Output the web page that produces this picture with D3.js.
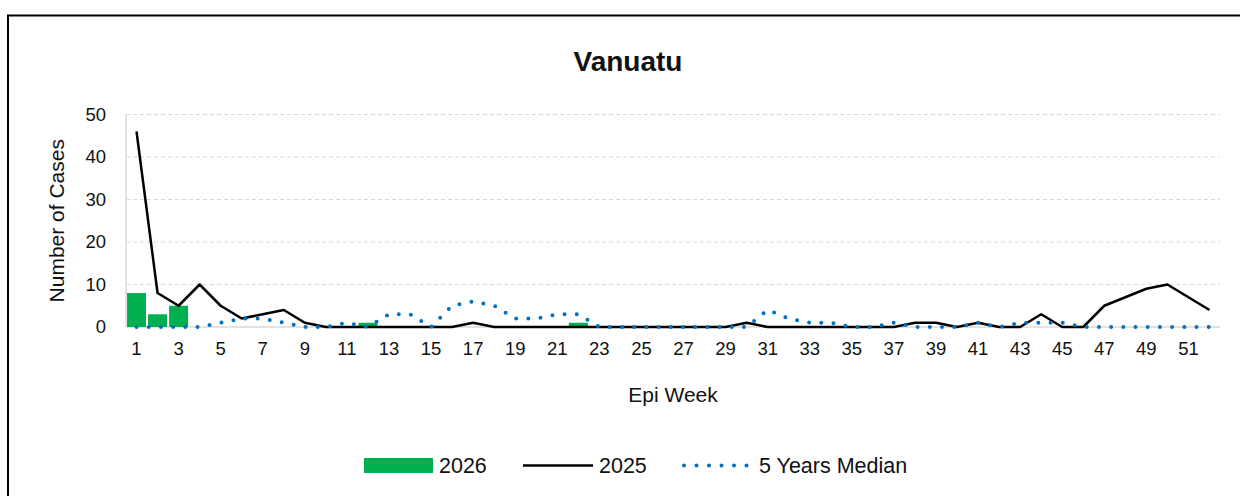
<!DOCTYPE html>
<html>
<head>
<meta charset="utf-8">
<script src="https://cdn.jsdelivr.net/npm/d3@7"></script>
<style>
  body { margin: 0; background: #fff; }
  text { font-family: "Liberation Sans", Arial, sans-serif; fill: #111; }
</style>
</head>
<body>
<div id="chart"></div>
<script>
// Epi weeks 1..52
const weeks = d3.range(1, 53);

// 2026 cases (bars)
const cases2026 = [8, 3, 5, 0, 0, 0, 0, 0, 0, 0, 0, 1, 0, 0, 0, 0, 0, 0, 0, 0, 0, 1, 0, 0, 0, 0,
                   0, 0, 0, 0, 0, 0, 0, 0, 0, 0, 0, 0, 0, 0, 0, 0, 0, 0, 0, 0, 0, 0, 0, 0, 0, 0];

// 2025 cases (black line)
const cases2025 = [46, 8, 5, 10, 5, 2, 3, 4, 1, 0, 0, 0, 0, 0, 0, 0, 1, 0, 0, 0, 0, 0, 0, 0, 0, 0,
                   0, 0, 0, 1, 0, 0, 0, 0, 0, 0, 0, 1, 1, 0, 1, 0, 0, 3, 0, 0, 5, 7, 9, 10, 7, 4];

// 5 years median (dotted line)
const median5 = [0, 0, 0, 0, 1, 2, 2, 1, 0, 0, 1, 0, 3, 3, 0, 5, 6, 5, 2, 2, 3, 3, 0, 0, 0, 0,
                 0, 0, 0, 0, 4, 2, 1, 1, 0, 0, 1, 0, 0, 0, 1, 0, 1, 1, 1, 0, 0, 0, 0, 0, 0, 0];

const yTicks = [0, 10, 20, 30, 40, 50];
const xTickLabels = weeks.filter(w => w % 2 === 1);

const W = 1240, H = 496;
const plot = { left: 126, right: 1220, top: 114.5, bottom: 327 };

const svg = d3.select("#chart")
    .append("svg")
    .attr("width", W)
    .attr("height", H);

// outer chart border
svg.append("rect")
    .attr("x", 8).attr("y", 15.5)
    .attr("width", 1260).attr("height", 520)
    .attr("fill", "none")
    .attr("stroke", "#000")
    .attr("stroke-width", 2);

const x = d3.scaleBand()
    .domain(weeks)
    .range([plot.left, plot.right])
    .paddingInner(0.1)
    .paddingOuter(0.05);

const xc = d => x(d) + x.bandwidth() / 2;

const y = d3.scaleLinear()
    .domain([0, 50])
    .range([plot.bottom, plot.top]);

// gridlines
svg.append("g")
    .selectAll("line")
    .data(yTicks.filter(t => t > 0))
    .enter().append("line")
    .attr("x1", plot.left).attr("x2", plot.right)
    .attr("y1", d => y(d)).attr("y2", d => y(d))
    .attr("stroke", "#d9d9d9")
    .attr("stroke-width", 1)
    .attr("stroke-dasharray", "4,3");

// axis lines
svg.append("line")
    .attr("x1", plot.left).attr("x2", plot.left)
    .attr("y1", plot.top).attr("y2", plot.bottom)
    .attr("stroke", "#d9d9d9").attr("stroke-width", 1.5);
svg.append("line")
    .attr("x1", plot.left).attr("x2", plot.right)
    .attr("y1", plot.bottom).attr("y2", plot.bottom)
    .attr("stroke", "#d9d9d9").attr("stroke-width", 1.5);

// y tick labels
svg.append("g")
    .selectAll("text")
    .data(yTicks)
    .enter().append("text")
    .attr("x", 106)
    .attr("y", d => y(d))
    .attr("dy", "0.35em")
    .attr("text-anchor", "end")
    .style("font-size", "18.5px")
    .text(d => d);

// x tick labels
svg.append("g")
    .selectAll("text")
    .data(xTickLabels)
    .enter().append("text")
    .attr("x", d => xc(d))
    .attr("y", 355)
    .attr("text-anchor", "middle")
    .style("font-size", "18.5px")
    .text(d => d);

// bars 2026
svg.append("g")
    .selectAll("rect")
    .data(weeks.map((w, i) => ({ w, v: cases2026[i] })).filter(d => d.v > 0))
    .enter().append("rect")
    .attr("x", d => x(d.w))
    .attr("y", d => y(d.v))
    .attr("width", x.bandwidth())
    .attr("height", d => y(0) - y(d.v))
    .attr("fill", "#00b050");

// 2025 line
const line = d3.line()
    .x(d => xc(d.w))
    .y(d => y(d.v));

svg.append("path")
    .datum(weeks.map((w, i) => ({ w, v: cases2025[i] })))
    .attr("d", line)
    .attr("fill", "none")
    .attr("stroke", "#000")
    .attr("stroke-width", 2.5)
    .attr("stroke-linejoin", "round");

// 5 years median dotted line
svg.append("path")
    .datum(weeks.map((w, i) => ({ w, v: median5[i] })))
    .attr("d", line)
    .attr("fill", "none")
    .attr("stroke", "#0070c0")
    .attr("stroke-width", 4)
    .attr("stroke-linecap", "round")
    .attr("stroke-dasharray", "0,12.2");

// title
svg.append("text")
    .attr("x", 628).attr("y", 71)
    .attr("text-anchor", "middle")
    .style("font-size", "28px")
    .style("font-weight", "bold")
    .text("Vanuatu");

// axis titles
svg.append("text")
    .attr("x", (plot.left + plot.right) / 2).attr("y", 402)
    .attr("text-anchor", "middle")
    .style("font-size", "21px")
    .text("Epi Week");

svg.append("text")
    .attr("transform", `translate(64,${(plot.top + plot.bottom) / 2}) rotate(-90)`)
    .attr("text-anchor", "middle")
    .style("font-size", "21px")
    .text("Number of Cases");

// legend
const legend = svg.append("g");
legend.append("rect")
    .attr("x", 364).attr("y", 458)
    .attr("width", 69).attr("height", 15)
    .attr("fill", "#00b050");
legend.append("text")
    .attr("x", 439).attr("y", 473)
    .style("font-size", "21.5px")
    .text("2026");

legend.append("line")
    .attr("x1", 523).attr("x2", 593)
    .attr("y1", 465.5).attr("y2", 465.5)
    .attr("stroke", "#000").attr("stroke-width", 2.5);
legend.append("text")
    .attr("x", 599).attr("y", 473)
    .style("font-size", "21.5px")
    .text("2025");

legend.append("line")
    .attr("x1", 684).attr("x2", 747)
    .attr("y1", 465.5).attr("y2", 465.5)
    .attr("stroke", "#0070c0").attr("stroke-width", 4)
    .attr("stroke-linecap", "round")
    .attr("stroke-dasharray", "0,12.5");
legend.append("text")
    .attr("x", 759).attr("y", 473)
    .style("font-size", "21.5px")
    .text("5 Years Median");
</script>
</body>
</html>
